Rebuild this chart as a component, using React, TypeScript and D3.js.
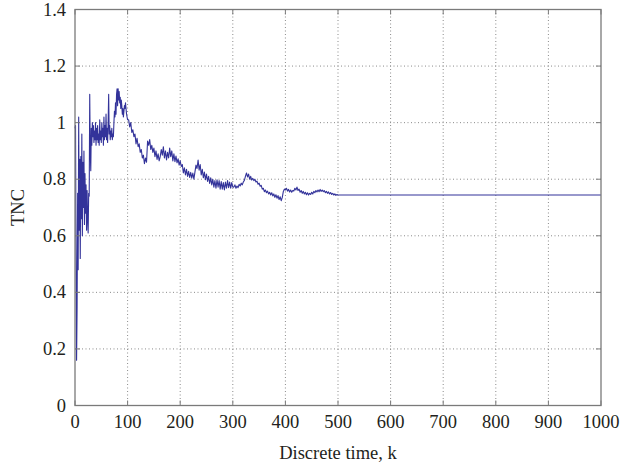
import React from "react";
import * as d3 from "d3";

// k = 0..100, step 1
const tncEarly: number[] = [
  0.98, 0.99, 0.55, 0.16, 0.35, 0.75, 0.48, 1.02, 0.62, 0.87,
  0.52, 0.88, 0.66, 0.96, 0.60, 0.86, 0.70, 0.90, 0.64, 0.82,
  0.68, 0.78, 0.62, 0.76, 0.66, 0.61, 0.75, 0.74, 1.10, 0.90,
  0.83, 0.98, 0.92, 1.00, 0.95, 0.99, 0.93, 0.97, 0.94, 1.00,
  0.92, 0.98, 0.94, 0.99, 0.93, 0.96, 0.92, 1.01, 0.94, 0.97,
  0.93, 1.00, 0.95, 0.98, 0.92, 1.02, 0.94, 0.99, 0.95, 1.03,
  0.94, 0.98, 0.93, 1.00, 1.10, 0.96, 0.99, 0.94, 0.97, 0.95,
  0.98, 0.94, 0.96, 0.95, 1.00, 1.04, 1.02, 1.07, 1.03, 1.10,
  1.12, 1.06, 1.12, 1.08, 1.11, 1.07, 1.09, 1.05, 1.08, 1.06,
  1.03, 1.05, 1.02, 1.04, 1.06, 1.05, 1.07, 1.05, 1.03, 1.02,
  1.01,
];

// k = 102..300, step 2
const tncMid: number[] = [
  1.01, 0.985, 1.00, 0.965, 0.975, 0.95, 0.96, 0.925, 0.945, 0.915,
  0.925, 0.895, 0.905, 0.875, 0.885, 0.855, 0.875, 0.86, 0.935, 0.92,
  0.94, 0.905, 0.92, 0.895, 0.91, 0.88, 0.9, 0.87, 0.89, 0.865,
  0.88, 0.905, 0.885, 0.915, 0.875, 0.9, 0.868, 0.895, 0.875, 0.91,
  0.88, 0.9, 0.865, 0.89, 0.862, 0.882, 0.858, 0.872, 0.85, 0.865,
  0.845, 0.852, 0.822, 0.84, 0.815, 0.835, 0.81, 0.828, 0.806, 0.824,
  0.804, 0.822, 0.8, 0.825, 0.85, 0.838, 0.868, 0.832, 0.852, 0.815,
  0.835, 0.805, 0.825, 0.798, 0.818, 0.792, 0.81, 0.785, 0.805, 0.78,
  0.8, 0.772, 0.795, 0.768, 0.798, 0.772, 0.795, 0.765, 0.792, 0.765,
  0.788, 0.762, 0.79, 0.768, 0.795, 0.77, 0.79, 0.768, 0.788, 0.772,
];

// k = 302..500, step 2
const tncLate: number[] = [
  0.772, 0.78, 0.768, 0.776, 0.77, 0.782, 0.776, 0.786, 0.78, 0.79,
  0.796, 0.81, 0.822, 0.808, 0.818, 0.80, 0.81, 0.797, 0.803, 0.795,
  0.80, 0.79, 0.793, 0.782, 0.786, 0.775, 0.778, 0.765, 0.768, 0.756,
  0.762, 0.752, 0.758, 0.748, 0.754, 0.744, 0.752, 0.741, 0.748, 0.736,
  0.745, 0.733, 0.742, 0.728, 0.738, 0.724, 0.735, 0.756, 0.765, 0.762,
  0.768, 0.758, 0.764, 0.755, 0.762, 0.754, 0.76, 0.758, 0.768, 0.762,
  0.772, 0.76, 0.765, 0.754, 0.76, 0.75, 0.757, 0.748, 0.754, 0.745,
  0.752, 0.744, 0.75, 0.746, 0.754, 0.748, 0.757, 0.752, 0.76, 0.755,
  0.762, 0.756, 0.764, 0.757, 0.762, 0.756, 0.76, 0.752, 0.757, 0.75,
  0.755, 0.748, 0.753, 0.746, 0.75, 0.744, 0.748, 0.743, 0.746, 0.744,
];

// k = 500..1000: steady state
const steadyRange: number[] = [500, 1000];
const steadyTNC = 0.744;

const xTicks: number[] = [0, 100, 200, 300, 400, 500, 600, 700, 800, 900, 1000];
const yTicks: number[] = [0, 0.2, 0.4, 0.6, 0.8, 1.0, 1.2, 1.4];
const yTickLabels: string[] = ["0", "0.2", "0.4", "0.6", "0.8", "1", "1.2", "1.4"];

const W = 621;
const H = 468;
const M = { left: 75, right: 601, top: 9.5, bottom: 405.5 };

export default function App() {
  const x = d3.scaleLinear().domain([0, 1000]).range([M.left, M.right]);
  const y = d3.scaleLinear().domain([0, 1.4]).range([M.bottom, M.top]);

  const pts: [number, number][] = [];
  tncEarly.forEach((v, i) => pts.push([i, v]));
  tncMid.forEach((v, i) => pts.push([102 + i * 2, v]));
  tncLate.forEach((v, i) => pts.push([302 + i * 2, v]));
  steadyRange.forEach((k) => pts.push([k, steadyTNC]));

  const line = d3
    .line<[number, number]>()
    .x((d) => x(d[0]))
    .y((d) => y(d[1]));

  const font = "'Liberation Serif', 'DejaVu Serif', serif";
  const axisColor = "#7a7a7a";
  const gridColor = "#8a8a8a";
  const textColor = "#231f20";
  const tickLen = 5;

  return (
    <svg
      width={W}
      height={H}
      style={{ position: "fixed", left: 0, top: 0, background: "#fff" }}
    >
      <rect x={0} y={0} width={W} height={H} fill="#fff" />
      {/* grid */}
      {xTicks.slice(1, -1).map((t) => (
        <line
          key={"gx" + t}
          x1={x(t)}
          x2={x(t)}
          y1={M.top}
          y2={M.bottom}
          stroke={gridColor}
          strokeWidth={1}
          strokeDasharray="1,2.5"
        />
      ))}
      {yTicks.slice(1, -1).map((t) => (
        <line
          key={"gy" + t}
          x1={M.left}
          x2={M.right}
          y1={y(t)}
          y2={y(t)}
          stroke={gridColor}
          strokeWidth={1}
          strokeDasharray="1,2.5"
        />
      ))}
      {/* data */}
      <path d={line(pts) || ""} fill="none" stroke="#33339a" strokeWidth={1.1} strokeLinejoin="round" />
      {/* frame */}
      <rect
        x={M.left}
        y={M.top}
        width={M.right - M.left}
        height={M.bottom - M.top}
        fill="none"
        stroke={axisColor}
        strokeWidth={1.3}
      />
      {/* ticks */}
      {xTicks.map((t) => (
        <g key={"tx" + t}>
          <line x1={x(t)} x2={x(t)} y1={M.bottom} y2={M.bottom - tickLen} stroke={axisColor} strokeWidth={1} />
          <line x1={x(t)} x2={x(t)} y1={M.top} y2={M.top + tickLen} stroke={axisColor} strokeWidth={1} />
          <text
            x={x(t)}
            y={428}
            textAnchor="middle"
            fontFamily={font}
            fontSize={18.5}
            fill={textColor}
          >
            {t}
          </text>
        </g>
      ))}
      {yTicks.map((t, i) => (
        <g key={"ty" + t}>
          <line x1={M.left} x2={M.left + tickLen} y1={y(t)} y2={y(t)} stroke={axisColor} strokeWidth={1} />
          <line x1={M.right} x2={M.right - tickLen} y1={y(t)} y2={y(t)} stroke={axisColor} strokeWidth={1} />
          <text
            x={66}
            y={y(t) + 6}
            textAnchor="end"
            fontFamily={font}
            fontSize={18.5}
            fill={textColor}
          >
            {yTickLabels[i]}
          </text>
        </g>
      ))}
      <text
        x={(M.left + M.right) / 2}
        y={459}
        textAnchor="middle"
        fontFamily={font}
        fontSize={18.5}
        fill={textColor}
      >
        Discrete time, k
      </text>
      <text
        transform={`translate(24, ${(M.top + M.bottom) / 2}) rotate(-90)`}
        textAnchor="middle"
        fontFamily={font}
        fontSize={18.5}
        fill={textColor}
      >
        TNC
      </text>
    </svg>
  );
}
